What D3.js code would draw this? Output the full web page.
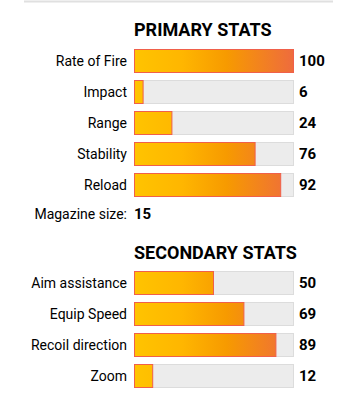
<!DOCTYPE html>
<html><head><meta charset="utf-8">
<script src="https://cdn.jsdelivr.net/npm/d3@7"></script>
<style>body{margin:0;background:#fff;}svg{display:block;font-family:Roboto,sans-serif;}</style>
</head><body>
<svg id="c" width="353" height="416"></svg>
<script>
const primaryStats = ["Rate of Fire","Impact","Range","Stability","Reload"];
const primaryValues = [100,6,24,76,92];
const magazineLabel = "Magazine size:";
const magazineValue = 15;
const secondaryStats = ["Aim assistance","Equip Speed","Recoil direction","Zoom"];
const secondaryValues = [50,69,89,12];
const titles = ["PRIMARY STATS","SECONDARY STATS"];

const svg = d3.select("#c");
const x = d3.scaleLinear().domain([0,100]).range([134,294]);

const defs = svg.append("defs");
const g = defs.append("linearGradient").attr("id","grad").attr("gradientUnits","userSpaceOnUse")
  .attr("x1",134).attr("y1",0).attr("x2",294).attr("y2",0);
g.append("stop").attr("offset","0%").attr("stop-color","#ffc400");
g.append("stop").attr("offset","30%").attr("stop-color","#ffb600");
g.append("stop").attr("offset","58%").attr("stop-color","#f79a00");
g.append("stop").attr("offset","100%").attr("stop-color","#ee6b3e");

svg.append("line").attr("x1",24).attr("x2",333).attr("y1",1.5).attr("y2",1.5)
  .attr("stroke","#e0e0e0").attr("stroke-width",2);

function section(cats, vals, top, titleY, title){
  svg.append("text").attr("x",134).attr("y",titleY).text(title)
    .attr("font-size",18).attr("font-weight","bold").attr("fill","#000");
  const y = d3.scaleBand().domain(cats).range([top-3.5, top-3.5+cats.length*31])
    .paddingInner(7/31).paddingOuter(3.5/31);
  const rows = svg.append("g").selectAll("g").data(cats.map((c,i)=>({c,v:vals[i]}))).join("g");
  rows.append("rect").attr("x",x(0)+0.5).attr("y",d=>y(d.c)+0.5)
    .attr("width",x(100)-x(0)-1).attr("height",y.bandwidth()-1)
    .attr("fill","#ececec").attr("stroke","#dcdcdc");
  rows.append("rect").attr("x",x(0)+0.5).attr("y",d=>y(d.c)+0.5)
    .attr("width",d=>x(d.v)-x(0)-1).attr("height",y.bandwidth()-1)
    .attr("fill","url(#grad)").attr("stroke","#f0604a");
  rows.append("text").attr("x",127).attr("y",d=>y(d.c)+y.bandwidth()/2).attr("dy","0.35em")
    .attr("text-anchor","end").attr("font-size",14).attr("fill","#000").text(d=>d.c);
  rows.append("text").attr("x",299).attr("y",d=>y(d.c)+y.bandwidth()/2).attr("dy","0.36em")
    .attr("font-size",15).attr("font-weight","bold").attr("fill","#000").text(d=>d.v);
}
section(primaryStats, primaryValues, 49, 36, titles[0]);
svg.append("text").attr("x",127).attr("y",214).attr("dy","0.35em").attr("text-anchor","end")
  .attr("font-size",14).attr("fill","#000").text(magazineLabel);
svg.append("text").attr("x",134).attr("y",214).attr("dy","0.36em")
  .attr("font-size",15).attr("font-weight","bold").attr("fill","#000").text(magazineValue);
section(secondaryStats, secondaryValues, 271, 259, titles[1]);
</script>
</body></html>
